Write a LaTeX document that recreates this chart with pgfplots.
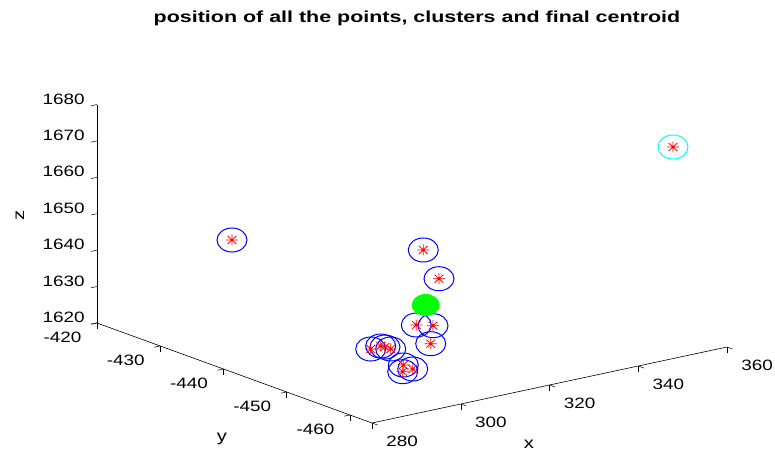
\documentclass[border=0pt]{standalone}
\usepackage{fontspec}
\setmainfont{Liberation Sans}
\newfontfamily\tickfont[FakeStretch=1.26]{Liberation Sans}
\newfontfamily\titlefont[FakeStretch=1.34]{Liberation Sans}
\usepackage{pgfplots}
\pgfplotsset{compat=1.18}
\usetikzlibrary{calc}
\pgfdeclareplotmark{ell}{%
  \pgfpathellipse{\pgfpointorigin}{\pgfqpoint{15pt}{0pt}}{\pgfqpoint{0pt}{12pt}}%
  \pgfusepathqstroke}
\pgfdeclareplotmark{fell}{%
  \pgfpathellipse{\pgfpointorigin}{\pgfqpoint{14pt}{0pt}}{\pgfqpoint{0pt}{11pt}}%
  \pgfusepathqfill}
\pgfdeclareplotmark{ast8}{%
  \pgfpathmoveto{\pgfqpoint{-6pt}{0pt}}\pgfpathlineto{\pgfqpoint{6pt}{0pt}}%
  \pgfpathmoveto{\pgfqpoint{0pt}{-5.5pt}}\pgfpathlineto{\pgfqpoint{0pt}{5.5pt}}%
  \pgfpathmoveto{\pgfqpoint{-4.3pt}{-4pt}}\pgfpathlineto{\pgfqpoint{4.3pt}{4pt}}%
  \pgfpathmoveto{\pgfqpoint{-4.3pt}{4pt}}\pgfpathlineto{\pgfqpoint{4.3pt}{-4pt}}%
  \pgfusepathqstroke}
\definecolor{mblue}{rgb}{0,0,1}
\definecolor{mcyan}{rgb}{0,1,1}
\definecolor{mred}{rgb}{1,0,0}
\definecolor{mgreen}{rgb}{0,1,0}
\begin{document}
\begin{tikzpicture}
\begin{axis}[
  x={(4.4375pt,0.95pt)}, y={(-6.325pt,2.3pt)}, z={(0pt,3.64pt)},
  xmin=280, xmax=360, ymin=-463.5, ymax=-420, zmin=1620, zmax=1680,
  axis lines*=left,
  clip=false,
  xtick={280,300,320,340,360}, xticklabels={280,300,320,340,360},
  ytick={-460,-450,-440,-430,-420}, yticklabels={-460,-450,-440,-430,-420},
  ztick={1620,1630,1640,1650,1660,1670,1680}, zticklabels={1620,1630,1640,1650,1660,1670,1680},
  tick align=outside,
  tick style={black, line width=0.5pt},
  major tick length=6pt,
  axis line style={black, line width=0.6pt},
  xticklabel style={font=\tickfont\fontsize{15}{15}\selectfont, anchor=center, xshift=24.5pt, yshift=-16pt},
  yticklabel style={font=\tickfont\fontsize{15}{15}\selectfont, anchor=center, xshift=-28.5pt, yshift=-13.5pt},
  zticklabel style={font=\tickfont\fontsize{15}{15}\selectfont, anchor=east, xshift=-3pt, yshift=3.5pt},
  xlabel={x}, ylabel={y},
  xlabel style={at={(rel axis cs:0,0,0)}, anchor=center, xshift=157pt, yshift=-21pt, font=\tickfont\fontsize{16}{16}\selectfont},
  ylabel style={at={(rel axis cs:0,0,0)}, anchor=center, xshift=-150pt, yshift=-16pt, font=\tickfont\fontsize{16}{16}\selectfont},
  title={position of all the points, clusters and final centroid},
  title style={at={(rel axis cs:0,0,0)}, anchor=center, xshift=45pt, yshift=399pt, font=\titlefont\bfseries\fontsize{16}{16}\selectfont},
]
% circles around the points
\addplot3[only marks, mark=ell, mblue, line width=1pt] coordinates {
(296.20,-430,1644.88) (310.80,-450,1650.96) (314.34,-450,1642.15)
(309.23,-450,1630.76) (312.99,-450,1629.59) (312.47,-450,1624.78)
(298.95,-450,1626.85) (301.20,-450,1627.09) (303.46,-450,1625.68)
(302.17,-450,1626.56) (299.17,-455,1625.56) (299.03,-455,1623.76)
(301.29,-455,1623.91)};
\addplot3[only marks, mark=ell, mcyan, line width=1pt] coordinates {(355.67,-458,1672.60)};
% points
\addplot3[only marks, mark=ast8, mred, line width=0.8pt] coordinates {
(296.20,-430,1644.88) (355.67,-458,1672.60) (310.80,-450,1650.96) (314.34,-450,1642.15)
(309.23,-450,1630.76) (312.99,-450,1629.59) (312.47,-450,1624.78)
(298.95,-450,1626.85) (301.20,-450,1627.09) (303.46,-450,1625.68)
(302.17,-450,1626.56) (299.17,-455,1625.56) (299.03,-455,1623.76)
(301.29,-455,1623.91)};
% final centroid
\addplot3[only marks, mark=fell, mgreen] coordinates {(311.34,-450,1635.71)};
\coordinate (c) at (axis cs:280,-463.5,1620);
\end{axis}
\node[rotate=90, font=\tickfont\fontsize{16}{16}\selectfont] at ($(c)+(-352pt,208pt)$) {z};
\pgfresetboundingbox
\path ($(c)+(-372pt,423pt)$) rectangle ($(c)+(403pt,-30pt)$);
\end{tikzpicture}
\end{document}
